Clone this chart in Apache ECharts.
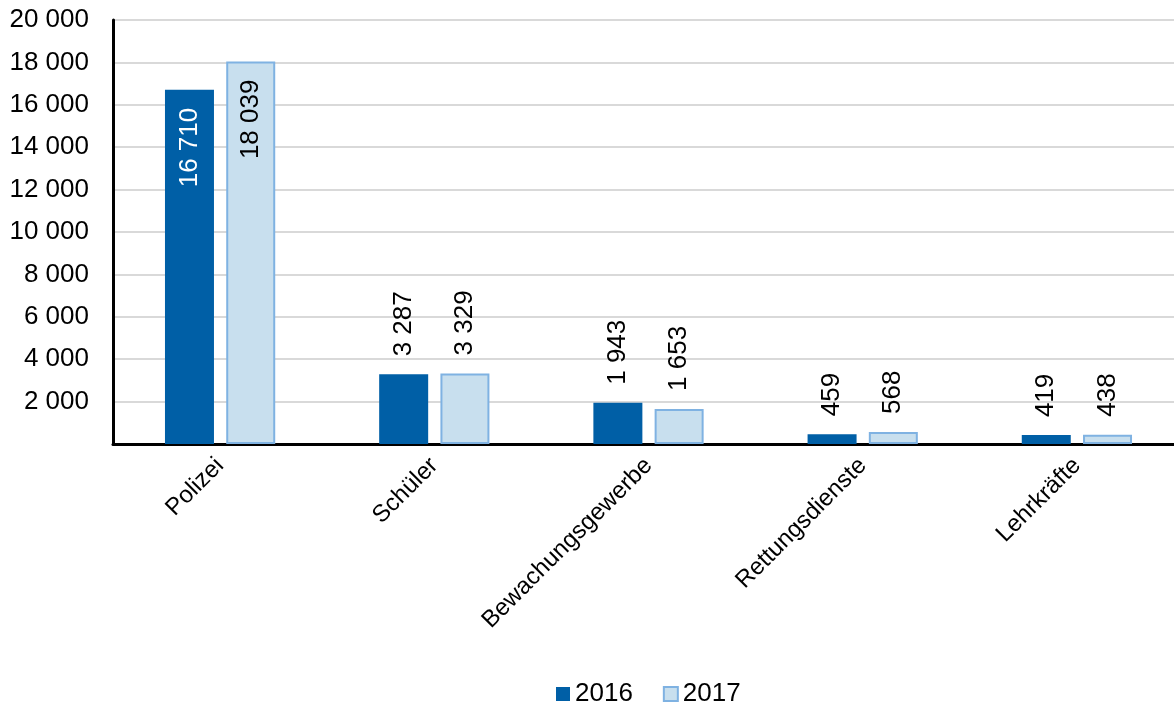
<!DOCTYPE html>
<html><head><meta charset="utf-8">
<script src="https://cdn.jsdelivr.net/npm/echarts@6/dist/echarts.min.js"></script>
<style>html,body{margin:0;padding:0;background:#fff}#c{width:1174px;height:709px}</style>
</head><body><div id="c"></div>
<script>
const categories = ['Polizei', 'Schüler', 'Bewachungsgewerbe', 'Rettungsdienste', 'Lehrkräfte'];
const values2016 = [16710, 3287, 1943, 459, 419];
const values2017 = [18039, 3329, 1653, 568, 438];
const seriesNames = ['2016', '2017'];
const yTicks = [0, 2000, 4000, 6000, 8000, 10000, 12000, 14000, 16000, 18000, 20000];

const fmt = v => String(v).replace(/\B(?=(\d{3})+(?!\d))/g, ' ');
const FONT = 'Liberation Sans, Arial, sans-serif';
const DARK = '#005fa6', LIGHT = '#c8dfee', LIGHTB = '#7fb2e2';

function mkData(vals, insideColor) {
  return vals.map((v, i) => {
    if (i === 0) {
      return { value: v, label: { position: 'insideTop', align: 'right', color: insideColor, distance: 18 } };
    }
    return v;
  });
}

const chart = echarts.init(document.getElementById('c'), null, { renderer: 'canvas' });
chart.setOption({
  animation: false,
  textStyle: { fontFamily: FONT },
  grid: { left: 113, width: 1071, top: 20, height: 424, containLabel: false, outerBoundsMode: 'none' },
  legend: {
    bottom: -3, left: 551, itemWidth: 14, itemHeight: 14, itemGap: 30,
    icon: 'rect',
    textStyle: { fontSize: 26, color: '#000', fontFamily: FONT },
    data: seriesNames
  },
  xAxis: {
    type: 'category', data: categories,
    axisLine: { lineStyle: { color: '#000', width: 3 } },
    axisTick: { show: false },
    axisLabel: { rotate: 45, fontSize: 24, color: '#000', margin: 18, interval: 0, fontFamily: FONT }
  },
  yAxis: {
    type: 'value', min: yTicks[0], max: yTicks[yTicks.length - 1], interval: 2000,
    axisLine: { show: true, lineStyle: { color: '#000', width: 3 } },
    axisTick: { show: false },
    splitLine: { lineStyle: { color: '#d9d9d9', width: 2 } },
    axisLabel: { fontSize: 26, color: '#000', margin: 24, fontFamily: FONT,
      formatter: v => v === 0 ? '' : fmt(v) }
  },
  series: [
    {
      name: seriesNames[0], type: 'bar', data: mkData(values2016, '#fff'),
      barWidth: 49, barGap: '25%',
      itemStyle: { color: DARK },
      label: { show: true, rotate: 90, position: 'top', align: 'left', verticalAlign: 'middle',
        distance: 18, fontSize: 26, color: '#000', fontFamily: FONT, formatter: p => fmt(p.value) }
    },
    {
      name: seriesNames[1], type: 'bar', data: mkData(values2017, '#000'),
      barWidth: 49, barGap: '25%',
      itemStyle: { color: LIGHT, borderColor: LIGHTB, borderWidth: 2 },
      label: { show: true, rotate: 90, position: 'top', align: 'left', verticalAlign: 'middle',
        distance: 18, fontSize: 26, color: '#000', fontFamily: FONT, formatter: p => fmt(p.value) }
    }
  ]
});
</script></body></html>
